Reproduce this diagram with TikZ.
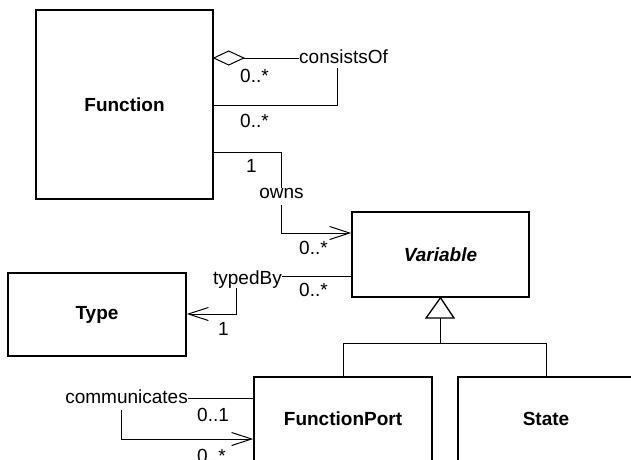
\documentclass[tikz,border=0pt]{standalone}
\usepackage{fontspec}
\setmainfont{Liberation Sans}
\usetikzlibrary{arrows.meta,calc}
\begin{document}
\begin{tikzpicture}[x=1pt,y=-1pt,
  box/.style={draw,line width=1.5pt,inner sep=0pt,fill=white,
    font=\fontsize{19}{22}\selectfont\bfseries},
  conn/.style={line width=1pt},
  lbl/.style={inner sep=0pt,font=\fontsize{19}{22}\selectfont},
  nav/.style={conn,-{Straight Barb[length=20pt,width=13pt,line width=1pt]}},
  gen/.style={line width=1.3pt,fill=white,line join=miter}]
\useasboundingbox (0,0) rectangle (631,459);
\clip (0,0) rectangle (631,459);

% classes
\node[box,minimum width=177pt,minimum height=189pt] (fn) at (124.5,104.5) {Function};
\node[box,minimum width=177pt,minimum height=85pt] (var) at (440.5,254.5) {\itshape Variable};
\node[box,minimum width=178pt,minimum height=83pt] (type) at (97,314.5) {Type};
\node[box,minimum width=178pt,minimum height=84pt] (fport) at (343,419) {FunctionPort};
\node[box,minimum width=176pt,minimum height=84pt] (state) at (546,419) {State};

% association labels
\node[lbl,anchor=base west] (cons) at (299,63) {consistsOf};
\node[lbl,anchor=base] (owns) at (281.5,198) {owns};
\node[lbl,anchor=base east] (typed) at (282,284) {typedBy};
\node[lbl,anchor=base east] (comm) at (188,403) {communicates};

% multiplicities
\node[lbl,anchor=base west] at (240,82) {0..*};
\node[lbl,anchor=base west] at (240,127) {0..*};
\node[lbl,anchor=base west] at (246,172) {1};
\node[lbl,anchor=base west] at (299,254) {0..*};
\node[lbl,anchor=base west] at (299,296) {0..*};
\node[lbl,anchor=base west] at (218,335) {1};
\node[lbl,anchor=base west] at (197,421) {0..1};
\node[lbl,anchor=base west] at (197,462) {0..*};

% consistsOf: aggregation of Function with itself
\coordinate (aggTip) at (fn.east |- 0,58);
\draw[conn,fill=white] (aggTip) -- ++(15,-7) -- ++(15,7) coordinate (aggEnd) -- ++(-15,7) -- cycle;
\draw[conn] (aggEnd) -- (cons.west |- aggEnd);
\draw[conn] (337,68) -- (337,105) -- (fn.east |- 0,105);

% owns
\draw[conn] (fn.east |- 0,152) -| (owns.north);
\draw[nav] (owns.south |- 0,205) |- (var.west |- 0,233);

% typedBy
\draw[conn] (var.west |- 0,276) -- (typed.east |- 0,276);
\draw[nav] (236,288) |- (type.east |- 0,314);

% generalization
\draw[conn] (fport.north) |- (440,343) -| (state.north);
\draw[conn] (440,343) -- (440,318);
\draw[gen] (var.south) -- (454,318) -- (426,318) -- cycle;

% communicates
\draw[conn] (comm.east |- 0,398) -- (fport.west |- 0,398);
\draw[nav] (121,410) |- (fport.west |- 0,439);
\end{tikzpicture}
\end{document}
